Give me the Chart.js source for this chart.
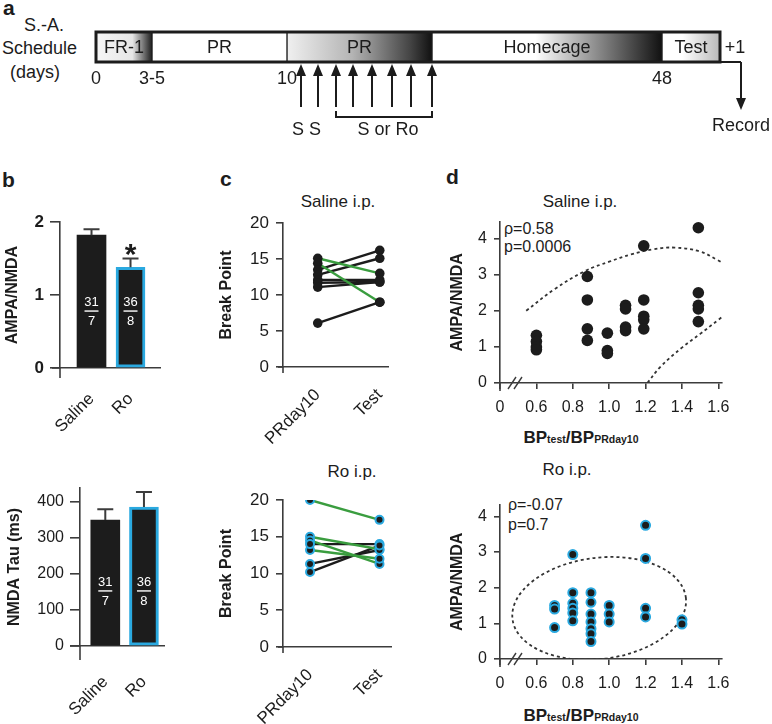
<!DOCTYPE html>
<html>
<head>
<meta charset="utf-8">
<script src="https://cdn.jsdelivr.net/npm/chart.js@4.4.1/dist/chart.umd.min.js"></script>
<style>
  html, body { margin: 0; padding: 0; background: #fff; }
  #fig { position: relative; width: 772px; height: 724px; overflow: hidden;
         font-family: 'Liberation Sans', Arial, sans-serif; color: #1c1c1c; }
  #fig canvas { position: absolute; }
  .txt { position: absolute; white-space: nowrap; line-height: 1; }
  .painel { font-weight: bold; font-size: 21px; }
  .esq { font-size: 18px; }
  .ttl { font-size: 17px; transform: translateX(-50%); }
  .est { font-size: 16px; }
  .xt { font-weight: bold; font-size: 17px; transform: translateX(-50%); }
  .xt span { font-size: 10.5px; }
</style>
</head>
<body>
<div id="fig">
  <div class="txt painel" style="left:3px;top:-3px">a</div>
  <div class="txt esq" style="left:24px;top:16px">S.-A.</div>
  <div class="txt esq" style="left:2px;top:39px">Schedule</div>
  <div class="txt esq" style="left:10px;top:63px">(days)</div>

  <div class="txt painel" style="left:2px;top:169px">b</div>
  <div class="txt painel" style="left:220px;top:168px">c</div>
  <div class="txt painel" style="left:446px;top:166px">d</div>

  <div class="txt ttl" style="left:338px;top:193px">Saline i.p.</div>
  <div class="txt ttl" style="left:352px;top:463px">Ro i.p.</div>
  <div class="txt ttl" style="left:580px;top:193px">Saline i.p.</div>
  <div class="txt ttl" style="left:567px;top:461px">Ro i.p.</div>

  <div class="txt est" style="left:504px;top:221px">ρ=0.58</div>
  <div class="txt est" style="left:504px;top:239px">p=0.0006</div>
  <div class="txt est" style="left:508px;top:497px">ρ=-0.07</div>
  <div class="txt est" style="left:508px;top:517px">p=0.7</div>

  <div class="txt xt" style="left:581px;top:429px">BP<span>test</span>/BP<span>PRday10</span></div>
  <div class="txt xt" style="left:581px;top:707px">BP<span>test</span>/BP<span>PRday10</span></div>
</div>

<script>
const FONT = "'Liberation Sans', Arial, sans-serif";
const INK = "#1c1c1c";
const AXIS = "#3c3c3c";
const BLUE = "#2aa9e0";
const GREEN = "#3a9d3f";

// a: cronograma
const schedSegments = ["FR-1", "PR", "PR", "Homecage", "Test"];
const schedStart = [0, 56, 191, 336, 566];
const schedEnd = [56, 191, 336, 566, 624];
const schedDayLabels = ["0", "3-5", "10", "48"];
const schedDayPos = [0, 56, 191, 566];
const injectPos = [205, 222, 240, 257, 276, 296, 315, 336];
const injectTags = ["S S", "S or Ro"];

// b: barras
const barGroups = ["Saline", "Ro"];
const ampaNmda = [1.82, 1.38];
const ampaNmdaErr = [0.08, 0.12];
const sigMarks = ["", "*"];
const tauMs = [350, 386];
const tauErr = [30, 42];
const cellCounts = ["31", "36"];
const ratCounts = ["7", "8"];
const ampaTicks = [0, 1, 2];
const tauTicks = [0, 100, 200, 300, 400];

// c: break point por animal
const sessions = ["PRday10", "Test"];
const bpTicks = [0, 5, 10, 15, 20];
const salBpDay10 = [15.1, 14.4, 13.5, 12.8, 12.1, 11.7, 11.1, 6.1];
const salBpTest = [13.0, 9.0, 16.2, 15.1, 12.1, 11.8, 11.8, 9.0];
const roBpDay10 = [20, 15, 14.5, 13.2, 14, 11.3, 10.2];
const roBpTest = [17.3, 13.3, 11.3, 12.0, 14, 13.2, 13.8];

// d: correlacao
const ratioTicks = [0.4, 0.6, 0.8, 1.0, 1.2, 1.4, 1.6];
const ratioTickLabels = ["0", "0.6", "0.8", "1.0", "1.2", "1.4", "1.6"];
const ampaDTicks = [0, 1, 2, 3, 4];
const salRatio = [0.6, 0.6, 0.6, 0.6, 0.88, 0.88, 0.88, 0.88, 0.99, 0.99, 0.99,
  1.09, 1.09, 1.09, 1.09, 1.19, 1.19, 1.19, 1.19, 1.19, 1.49, 1.49, 1.49, 1.49, 1.49];
const salAmpa = [1.32, 1.15, 1.0, 0.92, 2.95, 2.3, 1.5, 1.18, 1.38, 0.9, 0.82,
  2.15, 2.05, 1.55, 1.45, 3.8, 2.3, 1.85, 1.75, 1.5, 4.3, 2.5, 2.15, 2.05, 1.7];
const salBandUpX = [0.544, 0.7, 0.867, 1.0, 1.12, 1.24, 1.36, 1.5, 1.59, 1.65];
const salBandUpY = [2.0, 2.6, 3.1, 3.36, 3.56, 3.7, 3.75, 3.64, 3.42, 3.25];
const salBandLowX = [1.21, 1.28, 1.4, 1.5, 1.6, 1.65];
const salBandLowY = [0.0, 0.44, 0.98, 1.36, 1.75, 1.95];
const roRatio = [0.7, 0.7, 0.7, 0.8, 0.8, 0.8, 0.8, 0.8, 0.8,
  0.9, 0.9, 0.9, 0.9, 0.9, 0.9, 0.9, 1.0, 1.0, 1.0, 1.2, 1.2, 1.2, 1.2, 1.4, 1.4];
const roAmpa = [1.5, 1.4, 0.88, 2.93, 1.86, 1.56, 1.42, 1.29, 1.07,
  1.86, 1.59, 1.26, 1.04, 0.85, 0.71, 0.49, 1.5, 1.26, 1.04, 3.75, 2.82, 1.42, 1.18, 1.1, 0.98];
const roEllipseCenter = [0.945, 1.42];
const roEllipseRadius = [0.48, 1.42];

Chart.defaults.font.family = FONT;
Chart.defaults.color = INK;
Chart.defaults.animation = false;
Chart.defaults.plugins.legend.display = false;
Chart.defaults.plugins.tooltip.enabled = false;

const novoCanvas = (id, left, top, w, h) => {
  const c = document.createElement("canvas");
  c.id = id;
  c.width = w;
  c.height = h;
  c.style.left = left + "px";
  c.style.top = top + "px";
  c.style.width = w + "px";
  c.style.height = h + "px";
  document.getElementById("fig").appendChild(c);
  return c.getContext("2d");
};

const borda = { display: true, color: AXIS, width: 1.6 };
const marcas = (len) => ({
  display: true, drawOnChartArea: false, drawTicks: true,
  tickLength: len, color: AXIS, lineWidth: 1.6,
});
const fixos = (valores) => (s) => { s.ticks = valores.map((v) => ({ value: v })); };

// eixos que se cruzam na origem
const cruzaEixos = {
  id: "cruzaEixos",
  afterDraw(chart, args, o) {
    const a = chart.chartArea;
    const ctx = chart.ctx;
    ctx.save();
    ctx.strokeStyle = AXIS;
    ctx.lineWidth = 1.6;
    ctx.beginPath();
    if (o.xExt) { ctx.moveTo(a.left - o.xExt, a.bottom); ctx.lineTo(a.left, a.bottom); }
    if (o.yExt) { ctx.moveTo(a.left, a.bottom); ctx.lineTo(a.left, a.bottom + o.yExt); }
    ctx.stroke();
    if (o.quebra) {
      ctx.lineWidth = 1.4;
      ctx.beginPath();
      [12, 18].forEach((dx) => {
        ctx.moveTo(a.left + dx - 4, a.bottom + 6);
        ctx.lineTo(a.left + dx + 4, a.bottom - 6);
      });
      ctx.stroke();
    }
    ctx.restore();
  },
};

const barrasErro = {
  id: "barrasErro",
  afterDatasetsDraw(chart, args, o) {
    const ctx = chart.ctx;
    const y = chart.scales.y;
    const ds = chart.data.datasets[0];
    ctx.save();
    ctx.strokeStyle = AXIS;
    ctx.lineWidth = 2;
    chart.getDatasetMeta(0).data.forEach((bar, i) => {
      const topo = y.getPixelForValue(ds.data[i].y + o.erros[i]);
      ctx.beginPath();
      ctx.moveTo(bar.x, bar.y);
      ctx.lineTo(bar.x, topo);
      ctx.moveTo(bar.x - 8, topo);
      ctx.lineTo(bar.x + 8, topo);
      ctx.stroke();
      if (o.sig && o.sig[i]) {
        ctx.fillStyle = INK;
        ctx.font = `bold 30px ${FONT}`;
        ctx.textAlign = "center";
        ctx.textBaseline = "alphabetic";
        ctx.fillText(o.sig[i], bar.x, topo + 5);
      }
    });
    // fracao celulas / animais dentro da barra
    const yc = y.getPixelForValue(o.fracao);
    ctx.fillStyle = "#fff";
    ctx.strokeStyle = "#fff";
    ctx.lineWidth = 1.4;
    ctx.font = `13px ${FONT}`;
    ctx.textAlign = "center";
    ctx.textBaseline = "middle";
    chart.getDatasetMeta(0).data.forEach((bar, i) => {
      ctx.fillText(cellCounts[i], bar.x, yc - 9);
      ctx.beginPath();
      ctx.moveTo(bar.x - 7, yc);
      ctx.lineTo(bar.x + 7, yc);
      ctx.stroke();
      ctx.fillText(ratCounts[i], bar.x, yc + 10);
    });
    ctx.restore();
  },
};

const elipse = {
  id: "elipse",
  beforeDatasetsDraw(chart, args, o) {
    if (!o.centro) return;
    const { ctx, chartArea: a, scales: { x, y } } = chart;
    const cx = x.getPixelForValue(o.centro[0]);
    const cy = y.getPixelForValue(o.centro[1]);
    const rx = Math.abs(x.getPixelForValue(o.centro[0] + o.raio[0]) - cx);
    const ry = Math.abs(y.getPixelForValue(o.centro[1] + o.raio[1]) - cy);
    ctx.save();
    ctx.beginPath();
    ctx.rect(a.left, a.top, a.width, a.height);
    ctx.clip();
    ctx.setLineDash([3, 3]);
    ctx.lineWidth = 1.8;
    ctx.strokeStyle = "#333";
    ctx.beginPath();
    ctx.ellipse(cx, cy, rx, ry, o.rot, 0, Math.PI * 2);
    ctx.stroke();
    ctx.restore();
  },
};

// ---------- a ----------
const segStops = [
  [[0, "#f6f6f6"], [0.65, "#e6e6e6"], [1, "#1e1e1e"]],
  [[0, "#fff"], [1, "#fff"]],
  [[0, "#f0f0f0"], [0.45, "#b4b4b4"], [0.85, "#444"], [1, "#111"]],
  [[0, "#fff"], [0.45, "#fff"], [1, "#111"]],
  [[0, "#fff"], [0.35, "#fff"], [1, "#b8b8b8"]],
];

const degrade = (chart, i) => {
  const { ctx, chartArea, scales } = chart;
  if (!chartArea) return "#fff";
  const x0 = scales.x.getPixelForValue(schedStart[i]);
  const x1 = scales.x.getPixelForValue(schedEnd[i]);
  const g = ctx.createLinearGradient(x0, 0, x1, 0);
  segStops[i].forEach(([p, c]) => g.addColorStop(p, c));
  return g;
};

const setaVertical = (ctx, x, yIni, yPonta) => {
  const dir = yPonta < yIni ? 1 : -1;
  ctx.beginPath();
  ctx.moveTo(x, yIni);
  ctx.lineTo(x, yPonta + dir * 8);
  ctx.stroke();
  ctx.beginPath();
  ctx.moveTo(x, yPonta);
  ctx.lineTo(x - 5, yPonta + dir * 12);
  ctx.lineTo(x + 5, yPonta + dir * 12);
  ctx.closePath();
  ctx.fill();
};

const cronograma = {
  id: "cronograma",
  afterDatasetsDraw(chart) {
    const { ctx, chartArea: a, scales: { x } } = chart;
    const px = (v) => x.getPixelForValue(v);
    ctx.save();
    ctx.strokeStyle = INK;
    ctx.fillStyle = INK;
    ctx.lineWidth = 3;
    ctx.strokeRect(a.left, a.top, a.width, a.height);
    ctx.font = `18px ${FONT}`;
    ctx.textAlign = "center";
    ctx.textBaseline = "middle";
    schedSegments.forEach((s, i) => {
      ctx.fillText(s, (px(schedStart[i]) + px(schedEnd[i])) / 2, a.top + a.height / 2 + 1);
    });
    schedDayLabels.forEach((s, i) => ctx.fillText(s, px(schedDayPos[i]), a.bottom + 17));
    ctx.fillText("+1", a.right + 15, a.top + 16);

    ctx.lineWidth = 2;
    injectPos.forEach((p) => setaVertical(ctx, px(p), a.bottom + 45, a.bottom + 2));
    const b0 = px(injectPos[2]);
    const b1 = px(injectPos[injectPos.length - 1]);
    ctx.beginPath();
    ctx.moveTo(b0, a.bottom + 49);
    ctx.lineTo(b0, a.bottom + 55);
    ctx.lineTo(b1, a.bottom + 55);
    ctx.lineTo(b1, a.bottom + 49);
    ctx.stroke();
    ctx.fillText(injectTags[0], (px(injectPos[0]) + px(injectPos[1])) / 2 - 3, a.bottom + 68);
    ctx.fillText(injectTags[1], (b0 + b1) / 2 + 4, a.bottom + 68);

    // registro
    const xr = a.right + 21;
    ctx.beginPath();
    ctx.moveTo(a.right, a.bottom);
    ctx.lineTo(xr, a.bottom);
    ctx.stroke();
    setaVertical(ctx, xr, a.bottom, a.bottom + 48);
    ctx.fillText("Record", xr, a.bottom + 64);
    ctx.restore();
  },
};

new Chart(novoCanvas("cronograma", 0, 0, 772, 150), {
  type: "bar",
  data: {
    labels: ["schedule"],
    datasets: schedSegments.map((s, i) => ({
      label: s,
      data: [[schedStart[i], schedEnd[i]]],
      backgroundColor: (c) => degrade(c.chart, i),
      borderColor: INK,
      borderWidth: 1,
      borderSkipped: false,
      grouped: false,
      barPercentage: 1,
      categoryPercentage: 1,
    })),
  },
  options: {
    indexAxis: "y",
    responsive: false,
    layout: { padding: { left: 96, right: 52, top: 32, bottom: 88 } },
    scales: {
      x: { display: false, min: 0, max: 624 },
      y: { display: false },
    },
  },
  plugins: [cronograma],
});

// ---------- b ----------
const eixoGrupos = (min, max, h, pad) => ({
  type: "linear",
  min,
  max,
  offset: false,
  afterBuildTicks: fixos(barGroups.map((g, i) => i + 1)),
  ticks: {
    callback: (v) => barGroups[v - 1],
    minRotation: 45,
    maxRotation: 45,
    font: { size: 17 },
    padding: pad,
  },
  grid: { display: false, offset: false },
  border: borda,
  afterFit: (s) => { s.height = h; },
});

const barras = (valores) => ({
  data: valores.map((v, i) => ({ x: i + 1, y: v })),
  backgroundColor: INK,
  borderColor: [INK, BLUE],
  borderWidth: [0, 3],
  borderSkipped: false,
  barThickness: 29,
});

new Chart(novoCanvas("ampa", 0, 190, 175, 260), {
  type: "bar",
  data: { datasets: [barras(ampaNmda)] },
  options: {
    responsive: false,
    layout: { padding: { left: 3, right: 15, top: 32, bottom: 0 } },
    scales: {
      x: eixoGrupos(0.192, 2.756, 82, 13),
      y: {
        min: 0,
        max: 2,
        afterBuildTicks: fixos(ampaTicks),
        ticks: { font: { size: 17, weight: "bold" }, padding: 6 },
        grid: marcas(10),
        border: borda,
        title: { display: true, text: "AMPA/NMDA", font: { size: 16, weight: "bold" }, padding: 0 },
        afterFit: (s) => { s.width = 57; },
      },
    },
    plugins: {
      barrasErro: { erros: ampaNmdaErr, sig: sigMarks, fracao: 0.78 },
      cruzaEixos: { xExt: 8, yExt: 10 },
    },
  },
  plugins: [barrasErro, cruzaEixos],
});

new Chart(novoCanvas("tau", 0, 460, 180, 264), {
  type: "bar",
  data: { datasets: [barras(tauMs)] },
  options: {
    responsive: false,
    layout: { padding: { left: 5, right: 15, top: 28, bottom: 0 } },
    scales: {
      x: eixoGrupos(0.346, 2.526, 78, 18),
      y: {
        min: 0,
        max: 439,
        afterBuildTicks: fixos(tauTicks),
        ticks: { font: { size: 16 }, padding: 6 },
        grid: marcas(10),
        border: borda,
        title: { display: true, text: "NMDA Tau (ms)", font: { size: 16, weight: "bold" }, padding: 0 },
        afterFit: (s) => { s.width = 75; },
      },
    },
    plugins: {
      barrasErro: { erros: tauErr, sig: [], fracao: 153 },
      cruzaEixos: { xExt: 10, yExt: 14 },
    },
  },
  plugins: [barrasErro, cruzaEixos],
});

// ---------- c ----------
const graficoBP = (id, top, h, xMin, xMax, xH, dia10, teste, ponto) => {
  const linhas = dia10.map((v, i) => {
    const caiu = teste[i] < v;
    return {
      data: [{ x: 0, y: v }, { x: 1, y: teste[i] }],
      showLine: true,
      borderColor: caiu ? GREEN : INK,
      borderWidth: 2.4,
      pointRadius: 0,
      order: caiu ? 1 : 2,
    };
  });
  const pontos = {
    data: [...dia10.map((v) => ({ x: 0, y: v })), ...teste.map((v) => ({ x: 1, y: v }))],
    backgroundColor: INK,
    borderColor: ponto.borda,
    borderWidth: ponto.largura,
    pointRadius: ponto.raio,
    order: 0,
  };
  return new Chart(novoCanvas(id, 190, top, 215, h), {
    type: "scatter",
    data: { datasets: [pontos, ...linhas] },
    options: {
      responsive: false,
      layout: { padding: { left: 27, right: 10, top: 28, bottom: 0 } },
      scales: {
        x: {
          type: "linear",
          min: xMin,
          max: xMax,
          afterBuildTicks: fixos([0, 1]),
          ticks: {
            callback: (v) => sessions[v],
            minRotation: 45,
            maxRotation: 45,
            font: { size: 17 },
            padding: 10,
          },
          grid: { display: false },
          border: borda,
          afterFit: (s) => { s.height = xH; },
        },
        y: {
          min: 0,
          max: 20,
          afterBuildTicks: fixos(bpTicks),
          ticks: { font: { size: 17 }, padding: 7 },
          grid: marcas(7),
          border: borda,
          title: { display: true, text: "Break Point", font: { size: 16, weight: "bold" }, padding: 0 },
          afterFit: (s) => { s.width = 66; },
        },
      },
      plugins: { cruzaEixos: { xExt: 5, yExt: 6 } },
    },
    plugins: [cruzaEixos],
  });
};

graficoBP("bpSal", 195, 260, -0.56, 1.136, 88, salBpDay10, salBpTest,
  { raio: 4.8, largura: 0, borda: INK });
graficoBP("bpRo", 472, 252, -0.389, 1.167, 77, roBpDay10, roBpTest,
  { raio: 4, largura: 2, borda: BLUE });

// ---------- d ----------
const graficoCorr = (id, top, h, yMax, xH, datasets, extras) => new Chart(novoCanvas(id, 415, top, 325, h), {
  type: "scatter",
  data: { datasets },
  options: {
    responsive: false,
    layout: { padding: { left: 33, right: 18, top: 15, bottom: 0 } },
    scales: {
      x: {
        type: "linear",
        min: 0.4,
        max: 1.62,
        afterBuildTicks: fixos(ratioTicks),
        ticks: {
          callback: (v, i) => ratioTickLabels[i],
          font: { size: 16 },
          padding: 9,
          maxRotation: 0,
        },
        grid: marcas(6),
        border: borda,
        afterFit: (s) => { s.height = xH; },
      },
      y: {
        min: 0,
        max: yMax,
        afterBuildTicks: fixos(ampaDTicks),
        ticks: { font: { size: 16 }, padding: 7 },
        grid: marcas(6),
        border: borda,
        title: { display: true, text: "AMPA/NMDA", font: { size: 16, weight: "bold" }, padding: 0 },
        afterFit: (s) => { s.width = 52; },
      },
    },
    plugins: {
      cruzaEixos: { yExt: 8, quebra: true },
      elipse: extras,
    },
  },
  plugins: [cruzaEixos, elipse],
});

const tracejada = (xs, ys) => ({
  data: xs.map((v, i) => ({ x: v, y: ys[i] })),
  showLine: true,
  borderColor: "#333",
  borderWidth: 1.8,
  borderDash: [3, 3],
  tension: 0.4,
  pointRadius: 0,
  order: 2,
});

graficoCorr("corrSal", 205, 240, 4.47, 62, [
  {
    data: salRatio.map((v, i) => ({ x: v, y: salAmpa[i] })),
    backgroundColor: INK,
    borderWidth: 0,
    pointRadius: 5.8,
    order: 0,
  },
  tracejada(salBandUpX, salBandUpY),
  tracejada(salBandLowX, salBandLowY),
], {});

graficoCorr("corrRo", 488, 236, 4.33, 65, [
  {
    data: roRatio.map((v, i) => ({ x: v, y: roAmpa[i] })),
    backgroundColor: INK,
    borderColor: BLUE,
    borderWidth: 2,
    pointRadius: 4.5,
    order: 0,
  },
], { centro: roEllipseCenter, raio: roEllipseRadius, rot: -0.125 });
</script>
</body>
</html>
